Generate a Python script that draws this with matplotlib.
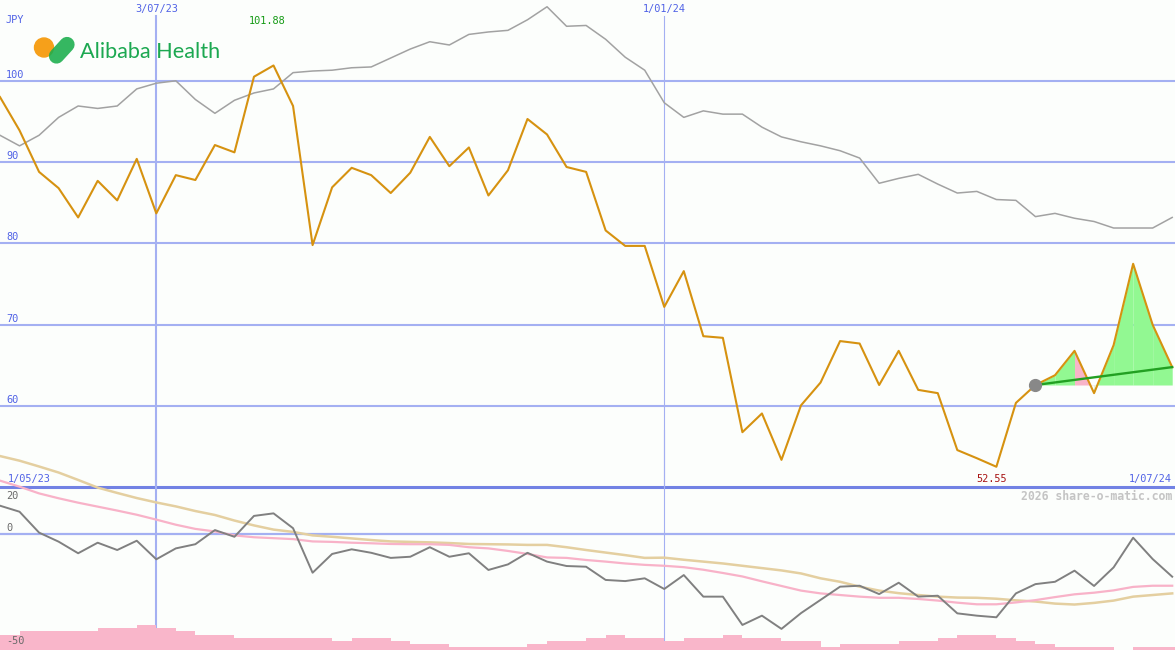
"""Alibaba Health weekly price chart, share-o-matic style."""

import matplotlib

matplotlib.use("Agg")
import matplotlib.dates as mdates
import matplotlib.pyplot as plt
import pandas as pd
from matplotlib.lines import Line2D
from matplotlib.patches import Ellipse

# weekly closes (JPY) starting Monday 8 May 2023
dates = pd.date_range("2023-05-08", periods=61, freq="7D")
price = [98.0, 93.9, 88.8, 86.8, 83.2, 87.7, 85.3, 90.4, 83.7, 88.4,
         87.8, 92.1, 91.2, 100.5, 101.88, 96.9, 79.8, 86.9, 89.3, 88.4,
         86.2, 88.7, 93.1, 89.5, 91.8, 85.9, 89.0, 95.3, 93.4, 89.4,
         88.8, 81.6, 79.7, 79.7, 72.2, 76.6, 68.6, 68.4, 56.8, 59.1,
         53.4, 60.1, 62.9, 68.0, 67.7, 62.6, 66.8, 62.0, 61.6, 54.6,
         53.6, 52.55, 60.4, 62.6, 63.8, 66.8, 61.6, 67.5, 77.5, 70.0,
         64.8]
# comparison index, rebased to price scale
index_cmp = [93.3, 92.0, 93.3, 95.5, 96.9, 96.6, 96.9, 99.0, 99.7, 100.0,
             97.7, 96.0, 97.6, 98.5, 99.0, 101.0, 101.2, 101.3, 101.6, 101.7,
             102.8, 103.9, 104.8, 104.4, 105.7, 106.0, 106.2, 107.5, 109.1, 106.7,
             106.8, 105.1, 102.9, 101.3, 97.3, 95.5, 96.3, 95.9, 95.9, 94.3,
             93.1, 92.5, 92.0, 91.4, 90.5, 87.4, 88.0, 88.5, 87.3, 86.2,
             86.4, 85.4, 85.3, 83.3, 83.7, 83.1, 82.7, 81.9, 81.9, 81.9,
             83.2]
# lower panel: relative strength and its two moving averages
rel = [12.2, 9.6, 0.6, -3.3, -8.3, -3.75, -6.9, -2.9, -10.9, -6.2,
       -4.4, 1.7, -1.2, 7.8, 8.9, 2.5, -16.7, -8.6, -6.6, -8.1,
       -10.3, -9.8, -5.7, -9.8, -8.3, -15.5, -13.1, -8.1, -11.9, -13.8,
       -14.1, -19.8, -20.3, -19.1, -23.7, -17.7, -27.0, -27.0, -39.2, -35.2,
       -40.9, -34.1, -28.4, -22.7, -22.3, -25.9, -21.0, -27.0, -26.6, -34.2,
       -35.2, -35.9, -25.6, -21.6, -20.6, -15.8, -22.4, -14.4, -1.6, -10.8,
       -18.4]
ma_slow = [33.6, 31.6, 29.1, 26.5, 23.3, 20.0, 17.7, 15.5, 13.6, 11.9,
           9.9, 8.2, 5.8, 3.7, 1.9, 0.9, -0.6, -1.2, -1.9, -2.6,
           -3.2, -3.4, -3.6, -3.9, -4.3, -4.4, -4.5, -4.7, -4.7, -5.7,
           -6.9, -8.0, -9.1, -10.3, -10.2, -11.1, -11.9, -12.7, -13.7, -14.7,
           -15.7, -17.0, -19.1, -20.6, -22.7, -24.4, -25.5, -26.3, -27.0, -27.4,
           -27.5, -27.9, -28.6, -29.1, -30.0, -30.4, -29.7, -28.7, -27.0, -26.3,
           -25.6]
ma_fast = [23.0, 20.4, 17.5, 15.4, 13.5, 11.8, 10.1, 8.3, 6.2, 4.0,
           2.2, 1.1, -0.6, -1.4, -1.8, -2.2, -3.2, -3.4, -3.75, -4.0,
           -4.3, -4.4, -4.4, -4.7, -5.7, -6.2, -7.3, -8.6, -10.1, -10.3,
           -11.2, -11.9, -12.7, -13.3, -13.7, -14.3, -15.4, -16.8, -18.3, -20.4,
           -22.4, -24.4, -25.6, -26.3, -27.0, -27.5, -27.5, -28.0, -28.7, -29.6,
           -30.3, -30.3, -29.5, -28.5, -27.2, -26.0, -25.3, -24.3, -22.8, -22.3,
           -22.3]
volume = [5, 6, 6, 6, 6, 7, 7, 8, 7, 6,
          5, 5, 4, 4, 4, 4, 4, 3, 4, 4,
          3, 2, 2, 1, 1, 1, 1, 2, 3, 3,
          4, 5, 4, 4, 3, 4, 4, 5, 4, 4,
          3, 3, 1, 2, 2, 2, 3, 3, 4, 5,
          5, 4, 3, 2, 1, 1, 1, 0, 1, 1,
          1]
trend_start, trend_end = 62.6, 64.8
trend_from = 53
grid_prices = [100, 90, 80, 70, 60]
vlines = ["2023-07-03", "2024-01-01"]
vline_labels = ["3/07/23", "1/01/24"]

BG = "#fcfefc"
BLUE_TXT = "#5062e6"
GRID = "#a4b0f2"
MONO = "DejaVu Sans Mono"

W, H = 1175, 650
fig = plt.figure(figsize=(W / 100, H / 100), dpi=100, facecolor=BG)
ax = fig.add_axes([0, 162.5 / H, 1, 487.5 / H])
bx = fig.add_axes([0, 0, 1, 220 / H])
vx = bx.twinx()
for a in (ax, bx, vx):
    a.set_axis_off()

x0 = mdates.date2num(dates[0])
x1 = mdates.date2num(dates[-1]) + 1
ax.set_xlim(x0, x1)
bx.set_xlim(x0, x1)
ax.set_ylim(50, 109.93)
bx.set_ylim(-50, 44.83)
vx.set_ylim(0, 70.97)

# grid
for v in grid_prices:
    ax.axhline(v, color=GRID, lw=1.5, zorder=1)
    ax.annotate(str(v), xy=(0, v), xycoords=("axes fraction", "data"),
                xytext=(6, 6), textcoords="offset pixels", ha="left",
                va="center", color=BLUE_TXT, family=MONO, fontsize=7.4)
ax.axhline(50, color="#7282e4", lw=2.2, zorder=1, clip_on=False)
bx.axhline(0, color=GRID, lw=1.6, zorder=1)
for d, lab, lw in zip(vlines, vline_labels, [1.5, 0.8]):
    xd = mdates.date2num(pd.Timestamp(d))
    ax.axvline(xd, ymax=1 - 16 / 487.5, color=GRID, lw=lw, zorder=1)
    bx.axvline(xd, color=GRID, lw=lw, zorder=1)
    ax.annotate(lab, xy=(xd, 1), xycoords=("data", "axes fraction"),
                xytext=(0, -9), textcoords="offset pixels", ha="center",
                va="center", color=BLUE_TXT, family=MONO, fontsize=7.4)

# price panel
ax.plot(dates, index_cmp, color="#a2a2a2", lw=1.1, zorder=2)

tx = [dates[trend_from], dates[-1]]
slope = (trend_end - trend_start) / (len(dates) - 1 - trend_from)
for i in range(trend_from, len(dates) - 1):
    trend_next = trend_start + slope * (i + 1 - trend_from)
    col = "#92f892" if price[i + 1] >= trend_next else "#f8b4c8"
    seg_x = [dates[i], dates[i + 1]]
    seg_y = [price[i], price[i + 1]]
    ax.fill_between(seg_x, seg_y, trend_start,
                    where=[True, True], interpolate=True,
                    color=col, lw=0, zorder=2)
    # remove part below the base
    ax.fill_between(seg_x, seg_y, trend_start,
                    where=[y < trend_start for y in seg_y], interpolate=True,
                    color=BG, lw=0, zorder=2)
ax.plot(tx, [trend_start, trend_end], color="#22a022", lw=1.7, zorder=4)
ax.plot(dates, price, color="#d69210", lw=1.5, zorder=3)
ax.plot([dates[trend_from]], [trend_start], "o", color="#888888", ms=8.5,
        zorder=5)

imax = price.index(max(price))
imin = price.index(min(price))
ax.annotate(f"{price[imax]:.2f}", xy=(dates[imax], 1),
            xycoords=("data", "axes fraction"), xytext=(-6, -21),
            textcoords="offset pixels", ha="center", va="center",
            color="#149a14", family=MONO, fontsize=7.4)
ax.annotate(f"{price[imin]:.2f}", xy=(dates[imin], 0),
            xycoords=("data", "axes fraction"), xytext=(-5, 8.5),
            textcoords="offset pixels", ha="center", va="center",
            color="#a81414", family=MONO, fontsize=7.4)

# lower panel
bx.plot(dates, ma_slow, color="#e4cfa0", lw=1.8, zorder=3)
bx.plot(dates, ma_fast, color="#f8b2c8", lw=1.6, zorder=3)
bx.plot(dates, rel, color="#808080", lw=1.4, zorder=4)
vx.bar(dates, volume, width=7, align="edge", color="#f9b6ca", lw=0)

# labels placed in pixel space
def ftext(x, y, s, **kw):
    fig.text(x / W, 1 - y / H, s, va="center", family=MONO, fontsize=7.4, **kw)

ftext(5, 20, "JPY", color=BLUE_TXT)
ftext(8, 479, "1/05/23", color=BLUE_TXT)
ftext(1172, 479, "1/07/24", color=BLUE_TXT, ha="right")
ftext(6, 496, "20", color="#6a6a6a")
ftext(6, 528, "0", color="#6a6a6a")
ftext(6, 641, "-50", color="#6a6a6a")
fig.text(1172 / W, 1 - 497 / H, "2026 share-o-matic.com", ha="right",
         va="center", family=MONO, fontsize=8.3, fontweight="bold",
         color="#c4c4c4")

# logo
fig.add_artist(Ellipse((44 / W, 1 - 47.5 / H), 19 / W, 19 / H,
                       color="#f6a01a", transform=fig.transFigure))
fig.add_artist(Line2D([56.5 / W, 67 / W], [1 - 56 / H, 1 - 44.5 / H],
                      lw=11, color="#19ad4c", alpha=0.88,
                      solid_capstyle="round", transform=fig.transFigure))
fig.text(80 / W, 1 - 57.5 / H, "Alibaba Health", ha="left", va="baseline",
         family="Lato", fontsize=15.6, color="#1ca851")

fig.savefig("out.png", dpi=100, facecolor=BG)
